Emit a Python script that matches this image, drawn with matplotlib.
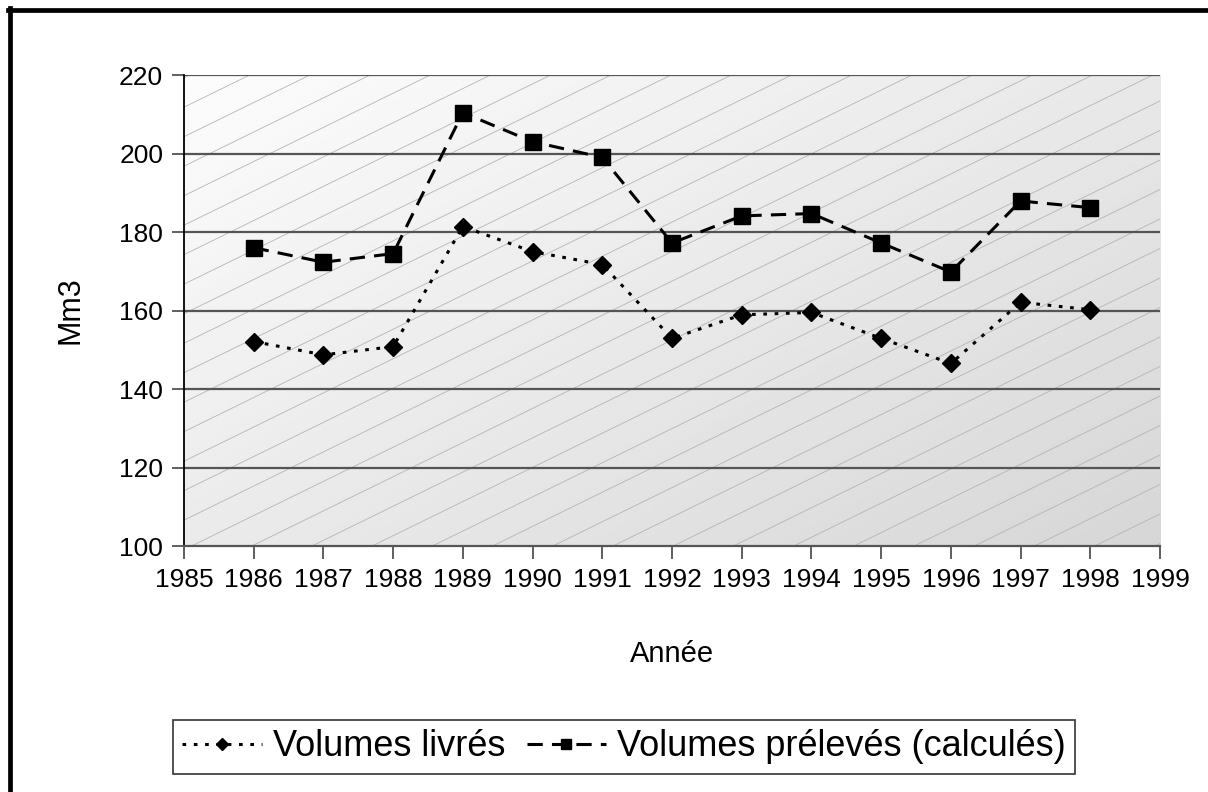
import numpy as np
import matplotlib.pyplot as plt
from matplotlib.lines import Line2D

plt.rcParams['font.family'] = ['Liberation Sans', 'DejaVu Sans']

# DONNEES
annees = [1986, 1987, 1988, 1989, 1990, 1991, 1992, 1993, 1994, 1995, 1996, 1997, 1998]
vol_livres = [152.1, 148.7, 150.8, 181.4, 175.0, 171.7, 152.9, 158.9, 159.5, 152.9, 146.5, 162.1, 160.2]
vol_preleves = [176.0, 172.3, 174.5, 210.4, 203.0, 199.0, 177.2, 184.1, 184.7, 177.2, 169.8, 187.9, 186.2]
label_livres = 'Volumes livrés'
label_preleves = 'Volumes prélevés (calculés)'
xticks = list(range(1985, 2000))
yticks = [100, 120, 140, 160, 180, 200, 220]

fig = plt.figure(figsize=(12.08, 7.92), dpi=100)
ax = fig.add_axes([0.1523, 0.3106, 0.8080, 0.5947])

# fond en degrade gris + hachures diagonales
xx, yy = np.meshgrid(np.linspace(0, 1, 200), np.linspace(0, 1, 200))
grad = 0.99 - 0.08 * xx - 0.07 * (1 - yy)
ax.imshow(grad, cmap='gray', vmin=0, vmax=1, extent=[0, 1, 0, 1], origin='lower',
          transform=ax.transAxes, aspect='auto', zorder=0, interpolation='bilinear')
slope = 0.49 * 976 / 471  # pente en coordonnees axes
for c in np.arange(-2.2, 1.0, 29.5 / 471):
    ax.plot([0, 1], [c, c + slope], transform=ax.transAxes, color='#b4b4b4',
            lw=0.6, zorder=0.5, clip_on=True)

for v in yticks[1:]:
    ax.axhline(v, color='#555555', lw=1.6, zorder=1)

ax.plot(annees, vol_livres, color='black', ls=(0, (1.2, 2.5)), lw=2.2,
        marker='D', ms=9, zorder=3, label=label_livres)
ax.plot(annees, vol_preleves, color='black', ls=(0, (5, 3)), lw=2.2,
        marker='s', ms=11, zorder=3, label=label_preleves)

ax.set_xlim(1985, 1999)
ax.set_ylim(100, 220)
ax.set_xticks(xticks)
ax.set_yticks(yticks)
ax.tick_params(axis='both', labelsize=19, length=9, width=1.2, color='#444444')
ax.tick_params(axis='x', pad=7)
ax.tick_params(axis='y', pad=6)
for s in ['top', 'right']:
    ax.spines[s].set_visible(False)
ax.spines['left'].set_color('black')
ax.spines['left'].set_linewidth(1.3)
ax.spines['bottom'].set_color('#555555')
ax.spines['bottom'].set_linewidth(1.6)

ax.set_ylabel('Mm3', fontsize=22)
ax.set_xlabel('Année', fontsize=21)
ax.yaxis.set_label_coords(-0.101, 0.5)
ax.xaxis.set_label_coords(0.5, -0.20)

leg = fig.legend(loc='center', bbox_to_anchor=(624 / 1208, 1 - 747 / 792), ncol=2,
                 fontsize=26, fancybox=False, edgecolor='#333333', framealpha=1,
                 handlelength=2.2, handletextpad=0.3, columnspacing=0.6,
                 borderpad=0.25, markerscale=0.7)
leg.get_frame().set_linewidth(1.2)

# cadre noir (haut et gauche)
fig.add_artist(Line2D([8 / 1208, 1], [1 - 10 / 792, 1 - 10 / 792], color='black',
                      lw=3.4, transform=fig.transFigure))
fig.add_artist(Line2D([10 / 1208, 10 / 1208], [0, 1 - 8 / 792], color='black',
                      lw=3.4, transform=fig.transFigure))

fig.savefig('out.png', dpi=100)
